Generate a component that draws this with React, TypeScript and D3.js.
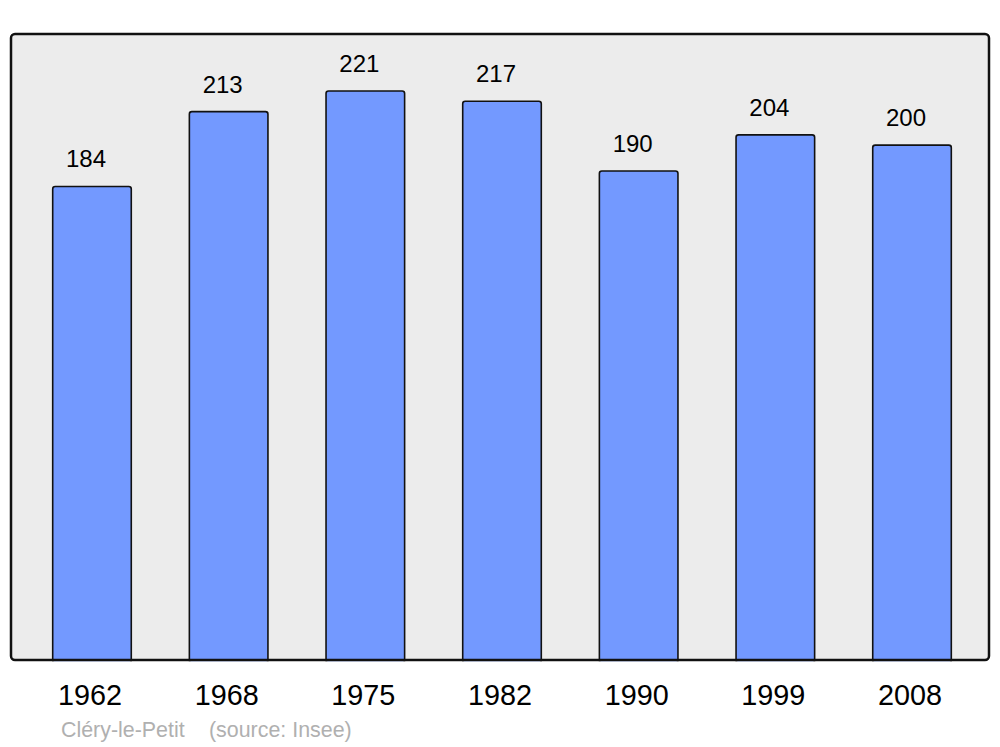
import { useEffect, useRef } from 'react';
import * as d3 from 'd3';

// population by census year
const years = ['1962', '1968', '1975', '1982', '1990', '1999', '2008'];
const population = [184, 213, 221, 217, 190, 204, 200];
const townLabel = 'Cléry-le-Petit';
const sourceLabel = '(source: Insee)';

export default function App(): JSX.Element {
  const svgRef = useRef<SVGSVGElement>(null);

  useEffect(() => {
    if (!svgRef.current) return;
    const svg = d3.select(svgRef.current);
    svg.selectAll('*').remove();

    const width = 1000;
    const height = 747;
    const panel = { left: 11, top: 34, right: 989, bottom: 660 };
    const font = '"Liberation Sans", Arial, sans-serif';

    svg.attr('width', width).attr('height', height);

    // Background panel
    svg.append('rect')
      .attr('x', panel.left)
      .attr('y', panel.top)
      .attr('width', panel.right - panel.left)
      .attr('height', panel.bottom - panel.top)
      .attr('rx', 4)
      .attr('fill', '#ececec');

    const xScale = d3.scaleBand()
      .domain(years)
      .range([23.65, 980.35])
      .paddingInner(0.425)
      .paddingOuter(0.2125);

    const yScale = d3.scaleLinear()
      .domain([0, (d3.max(population) || 0) * 1.1])
      .range([panel.bottom + 1, panel.top]);

    const data = years.map((y, i) => ({ year: y, value: population[i] }));

    // Bars
    svg.selectAll('.bar')
      .data(data)
      .enter()
      .append('rect')
      .attr('class', 'bar')
      .attr('x', d => xScale(d.year) || 0)
      .attr('y', d => yScale(d.value))
      .attr('width', xScale.bandwidth())
      .attr('height', d => panel.bottom - yScale(d.value) + 3)
      .attr('rx', 2.5)
      .attr('fill', '#7399ff')
      .attr('stroke', '#111')
      .attr('stroke-width', 1.6);

    // clip bar bottoms, then draw the panel border on top
    svg.append('rect')
      .attr('x', 0)
      .attr('y', panel.bottom + 1.25)
      .attr('width', width)
      .attr('height', 20)
      .attr('fill', '#fff');
    svg.append('rect')
      .attr('x', panel.left)
      .attr('y', panel.top)
      .attr('width', panel.right - panel.left)
      .attr('height', panel.bottom - panel.top)
      .attr('rx', 4)
      .attr('fill', 'none')
      .attr('stroke', '#111')
      .attr('stroke-width', 2.5);

    // Value labels
    svg.selectAll('.val')
      .data(data)
      .enter()
      .append('text')
      .attr('class', 'val')
      .attr('x', d => (xScale(d.year) || 0) + xScale.bandwidth() / 2 - 6)
      .attr('y', d => yScale(d.value) - 19)
      .attr('text-anchor', 'middle')
      .style('font-family', font)
      .style('font-size', '24px')
      .style('fill', '#000')
      .text(d => d.value);

    // Year labels
    svg.selectAll('.year')
      .data(data)
      .enter()
      .append('text')
      .attr('class', 'year')
      .attr('x', d => (xScale(d.year) || 0) + xScale.bandwidth() / 2 - 2)
      .attr('y', 705)
      .attr('text-anchor', 'middle')
      .style('font-family', font)
      .style('font-size', '28.8px')
      .style('fill', '#000')
      .text(d => d.year);

    // Footer
    svg.append('text')
      .attr('x', 61)
      .attr('y', 737)
      .style('font-family', font)
      .style('font-size', '21.4px')
      .style('fill', '#b0b0b0')
      .text(townLabel);
    svg.append('text')
      .attr('x', 209)
      .attr('y', 737)
      .style('font-family', font)
      .style('font-size', '21.4px')
      .style('fill', '#b0b0b0')
      .text(sourceLabel);
  }, []);

  return (
    <div style={{ position: 'absolute', left: 0, top: 0 }}>
      <svg ref={svgRef} style={{ display: 'block' }}></svg>
    </div>
  );
}
